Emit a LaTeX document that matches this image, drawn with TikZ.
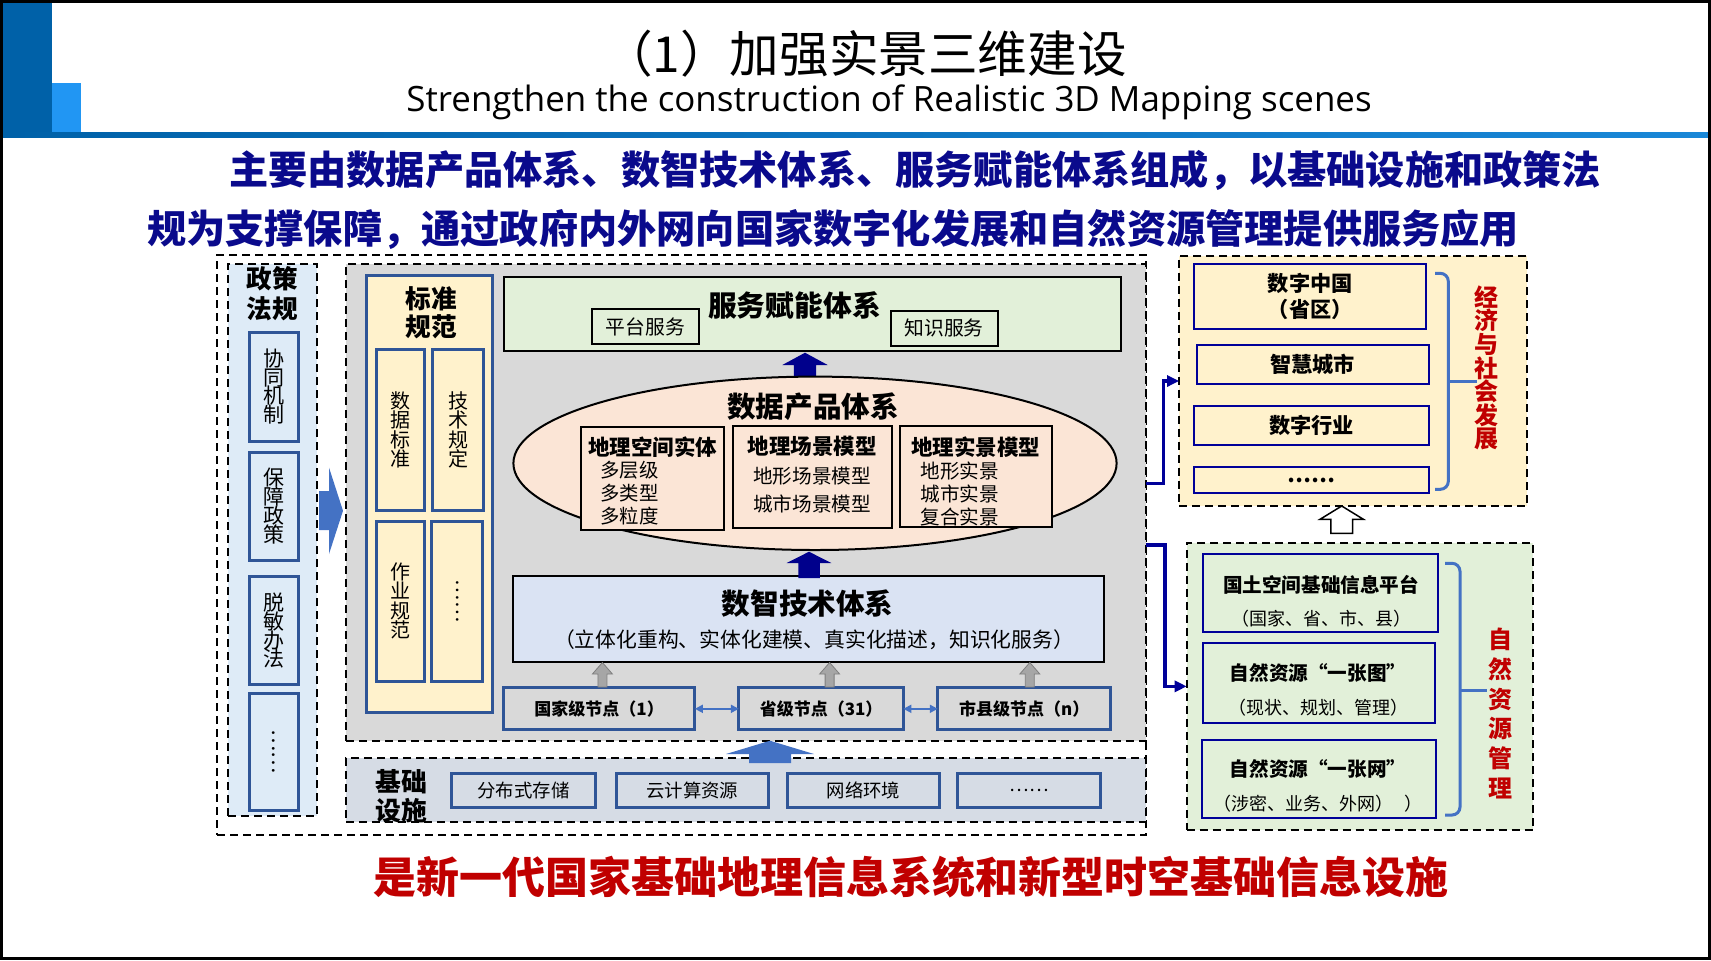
\documentclass[tikz,border=0pt]{standalone}
\usepackage{fontspec}
\usepackage{graphicx}
\setmainfont{Noto Sans CJK SC}
\newfontfamily\latinfont{Open Sans}
\usetikzlibrary{arrows.meta,shapes.geometric}
\definecolor{policyblue}{RGB}{222,235,247}
\definecolor{itemblue}{RGB}{47,85,151}
\definecolor{midgray}{RGB}{217,217,217}
\definecolor{stdyellow}{RGB}{255,242,204}
\definecolor{svcgreen}{RGB}{226,240,217}
\definecolor{prodpeach}{RGB}{251,229,214}
\definecolor{techblue}{RGB}{218,227,243}
\definecolor{infragray}{RGB}{214,220,229}
\definecolor{arrowblue}{RGB}{68,114,196}
\definecolor{navyline}{RGB}{0,0,153}
\definecolor{darknavy}{RGB}{0,0,140}
\definecolor{headred}{RGB}{192,0,0}
\definecolor{headblue}{RGB}{10,10,140}
\definecolor{bardark}{RGB}{0,97,168}
\definecolor{barlight}{RGB}{33,150,243}
\definecolor{lineright}{RGB}{25,135,215}
\definecolor{graytip}{RGB}{166,166,166}
\definecolor{grayedge}{RGB}{127,127,127}
\newcommand\tightlines{\lineskiplimit=-20pt\relax}

\tikzset{
  sz/.style 2 args={minimum width=#1*0.5pt, minimum height=#2*0.5pt},
  fs/.style 2 args={font=\fontsize{#1}{#2}\selectfont\tightlines},
  bf/.style 2 args={font=\fontsize{#1}{#2}\selectfont\bfseries\tightlines},
  dashbox/.style={draw=black, line width=1pt, dash pattern=on 4pt off 2.5pt},
  itembox/.style={draw=itemblue, line width=1.5pt},
  plainbox/.style={draw=black, line width=1pt},
  navybox/.style={draw=navyline, line width=1pt},
  link/.style={navyline, line width=1.75pt, -{Triangle[length=6pt,width=5.5pt]}},
  twoway/.style={arrowblue, line width=1pt, {Triangle[length=4pt,width=4pt]}-{Triangle[length=4pt,width=4pt]}},
  bracket/.style={arrowblue, line width=1.5pt, rounded corners=4pt},
}

\begin{document}
\begin{tikzpicture}[x=0.5pt, y=-0.5pt, every node/.style={inner sep=0pt, outer sep=0pt}]
  \useasboundingbox (0,0) rectangle (1711,960);

  % ── header ─────────────────────────────────────────────
  \fill[bardark] (2,2) rectangle (52,137);
  \fill[barlight] (52,83) rectangle (81,132);
  \shade[left color=bardark, right color=lineright] (2,132) rectangle (1709,137);
  \draw[line width=1.5pt] (1.5,1.5) rectangle (1709.5,958.5);

  \node[fs={24.8}{30}] (title) at (865,54) {（1）加强实景三维建设};
  \node[font=\latinfont\fontsize{17.45}{20}\selectfont] (subtitle) at (889,102)
    {Strengthen the construction of Realistic 3D Mapping scenes};

  \node[bf={19.6}{24}, headblue, anchor=west] (lead1) at (229,170)
    {主要由数据产品体系、数智技术体系、服务赋能体系组成，以基础设施和政策法};
  \node[bf={19.6}{24}, headblue, anchor=west] (lead2) at (147,229)
    {规为支撑保障，通过政府内外网向国家数字化发展和自然资源管理提供服务应用};
  \node[bf={21.5}{26}, headred] (closing) at (911,877)
    {是新一代国家基础地理信息系统和新型时空基础信息设施};

  % ── left block: policy ─────────────────────────────────
  \node[dashbox, sz={929}{580}] (outer) at (681.5,545) {};
  \node[dashbox, fill=policyblue, sz={89}{552}] (policy) at (272.5,540) {};
  \node[bf={12.8}{15}, align=center] (policytitle) at (272,294) {政策\\法规};
  \node[itembox, fill=policyblue, sz={49}{109}, fs={10.5}{9.4}, align=center] (coop) at (273.5,386.5) {协\\同\\机\\制};
  \node[itembox, fill=policyblue, sz={49}{108}, fs={10.5}{9.4}, align=center] (guarantee) at (273.5,506) {保\\障\\政\\策};
  \node[itembox, fill=policyblue, sz={49}{108}, fs={10.5}{9.4}, align=center] (desens) at (273.5,630.7) {脱\\敏\\办\\法};
  \node[itembox, fill=policyblue, sz={49}{117}, fs={10.5}{9.4}] (morepolicy) at (273.5,751.5) {\rotatebox{-90}{……}};

  \fill[arrowblue] (319,491) -- (329,491) -- (329,467.5) -- (343,510.8) -- (329,554) -- (329,530) -- (319,530) -- cycle;

  % ── main block ─────────────────────────────────────────
  \node[dashbox, fill=midgray, sz={800}{477}] (main) at (746,502.5) {};

  \node[itembox, fill=stdyellow, sz={126}{437}] (std) at (429.8,494.2) {};
  \node[bf={12.8}{14.1}, align=center] (stdtitle) at (431,313) {标准\\规范};
  \node[itembox, fill=stdyellow, sz={48.3}{160.6}, fs={10}{9.7}, align=center] (datastd) at (400.8,430) {数\\据\\标\\准};
  \node[itembox, fill=stdyellow, sz={50.6}{160.6}, fs={10}{9.7}, align=center] (techstd) at (458,430) {技\\术\\规\\定};
  \node[itembox, fill=stdyellow, sz={48.3}{160}, fs={10}{9.7}, align=center] (workstd) at (400.8,601) {作\\业\\规\\范};
  \node[itembox, fill=stdyellow, sz={51}{160}, fs={10}{9.7}] (morestd) at (457.2,601) {\rotatebox{-90}{……}};

  \node[plainbox, fill=svcgreen, sz={616.6}{73.7}] (service) at (812.3,314.2) {};
  \node[bf={14.4}{17}] (servicetitle) at (794.4,305) {服务赋能体系};
  \node[plainbox, fill=svcgreen, sz={107}{34.7}, fs={9.9}{12}] (platform) at (645.5,326.7) {平台服务};
  \node[plainbox, fill=svcgreen, sz={107}{35}, fs={9.9}{12}] (knowledge) at (944,328.2) {知识服务};

  \fill[darknavy] (793.8,385) -- (793.8,365) -- (782.3,365) -- (805,352.7) -- (827.7,365) -- (816.2,365) -- (816.2,385) -- cycle;

  \node[ellipse, plainbox, fill=prodpeach, sz={603.2}{173.4}] (product) at (815,463.3) {};
  \node[bf={14.3}{17}] (producttitle) at (813,406.7) {数据产品体系};
  \node[plainbox, fill=prodpeach, sz={143.5}{103.3}] (entity) at (652.5,478.3) {};
  \node[plainbox, fill=prodpeach, sz={159.2}{102}] (scene) at (812.6,476.7) {};
  \node[plainbox, fill=prodpeach, sz={151.7}{101.6}] (real) at (976.3,476.5) {};
  \node[bf={10.75}{13}] (entityhd) at (652.5,446.7) {地理空间实体};
  \node[bf={10.75}{13}] (scenehd) at (812,446.7) {地理场景模型};
  \node[bf={10.75}{13}] (realhd) at (975.8,446.7) {地理实景模型};
  \node[fs={9.7}{11.4}, align=left] (entityitems) at (629.6,493) {多层级\\多类型\\多粒度};
  \node[fs={9.8}{14.15}, align=center] (sceneitems) at (812,490.2) {地形场景模型\\城市场景模型};
  \node[fs={9.8}{11.65}, align=left] (realitems) at (959.8,494) {地形实景\\城市实景\\复合实景};

  \node[plainbox, fill=techblue, sz={590.3}{86}] (tech) at (808.5,619) {};
  \node[bf={14.3}{17}] (techtitle) at (807.6,603.3) {数智技术体系};
  \node[fs={10.4}{13}] (techsub) at (814,639.3) {（立体化重构、实体化建模、真实化描述，知识化服务）};

  \fill[darknavy] (798.3,578) -- (798.3,563) -- (786.7,563) -- (809,551.7) -- (831.3,563) -- (819.8,563) -- (819.8,578) -- cycle;

  \node[itembox, fill=midgray, sz={191.6}{42.3}, bf={8.5}{10}] (national) at (599.1,708.8) {国家级节点（1）};
  \node[itembox, fill=midgray, sz={164.6}{42.3}, bf={8.5}{10}] (provincial) at (821.1,708.8) {省级节点（31）};
  \node[itembox, fill=midgray, sz={172.9}{42.3}, bf={8.5}{10}] (municipal) at (1024.2,708.8) {市县级节点（n）};
  \draw[twoway] (national) -- (provincial);
  \draw[twoway] (provincial) -- (municipal);

  \foreach \ax in {602.4,829.6,1029.8} {
    \filldraw[fill=graytip, draw=grayedge, line width=0.4pt]
      ({\ax-4.5},687) -- ({\ax-4.5},674) -- ({\ax-10},674) -- (\ax,662.5)
      -- ({\ax+10},674) -- ({\ax+4.5},674) -- ({\ax+4.5},687) -- cycle;
  }

  % ── infrastructure ─────────────────────────────────────
  \node[dashbox, fill=infragray, sz={800}{64}] (infra) at (746,790) {};
  \node[bf={12.9}{14.3}, align=center] (infratitle) at (401.7,796.3) {基础\\设施};
  \node[itembox, fill=infragray, sz={143.3}{33.3}, fs={9.2}{11}] (storage) at (523.5,790.6) {分布式存储};
  \node[itembox, fill=infragray, sz={152.3}{33.3}, fs={9.2}{11}] (cloud) at (692.2,790.6) {云计算资源};
  \node[itembox, fill=infragray, sz={151.7}{33.3}, fs={9.2}{11}] (network) at (863.5,790.6) {网络环境};
  \node[itembox, fill=infragray, sz={142.8}{33.3}, fs={9.2}{11}] (moreinfra) at (1029,790.6) {……};

  \fill[arrowblue] (749,763) -- (749,754) -- (726,754) -- (770,740.7) -- (814,754) -- (791,754) -- (791,763) -- cycle;

  % ── right: economy ─────────────────────────────────────
  \node[dashbox, fill=stdyellow, sz={347.7}{250}] (econ) at (1352.9,381) {};
  \node[navybox, fill=stdyellow, sz={231.7}{65}, bf={10.6}{13.3}, align=center] (digitalchina) at (1310.2,296.5) {数字中国\\（省区）};
  \node[navybox, fill=stdyellow, sz={232}{39}, bf={10.6}{13}] (smartcity) at (1312.7,364.5) {智慧城市};
  \node[navybox, fill=stdyellow, sz={234.4}{39.3}, bf={10.6}{13}] (industry) at (1311.5,425.3) {数字行业};
  \node[navybox, fill=stdyellow, sz={234.4}{25.4}, bf={10.6}{13}] (moreecon) at (1311.5,480) {\raisebox{-2.5pt}{……}};
  \draw[bracket] (1435,273.3) -- (1448.3,273.3) -- (1448.3,489.3) -- (1435,489.3);
  \draw[bracket] (1448.3,381.7) -- (1476.7,381.7);
  \node[bf={12}{11.8}, headred, align=center] (econlabel) at (1486.7,367.9) {经\\济\\与\\社\\会\\发\\展};

  % ── right: resources ───────────────────────────────────
  \node[dashbox, fill=svcgreen, sz={346.6}{287.3}] (res) at (1360,686.35) {};
  \node[navybox, fill=svcgreen, sz={234.4}{77.7}] (platformbase) at (1320.5,592.8) {};
  \node[navybox, fill=svcgreen, sz={232}{79.4}] (onemap) at (1319.3,683) {};
  \node[navybox, fill=svcgreen, sz={234.3}{78.3}] (onenet) at (1318.8,779.2) {};
  \node[fs={9.8}{16.5}, align=center] (platformbasetxt) at (1321,600.8)
    {{\bfseries 国土空间基础信息平台}\\{\fontsize{9}{16.5}\selectfont （国家、省、市、县）}};
  \node[fs={9.8}{16.7}, align=center] (onemaptxt) at (1318,690)
    {{\bfseries 自然资源“一张图”}\\{\fontsize{9}{16.7}\selectfont （现状、规划、管理）}};
  \node[fs={9.8}{16.7}, align=center] (onenettxt) at (1318,786)
    {{\bfseries 自然资源“一张网”}\\{\fontsize{9}{16.7}\selectfont （涉密、业务、外网）\hspace{0.6em}）}};
  \draw[bracket] (1445,563.3) -- (1460,563.3) -- (1460,815) -- (1445,815);
  \draw[bracket] (1460,690) -- (1486.7,690);
  \node[bf={12}{14.9}, headred, align=center] (reslabel) at (1500,713.5) {自\\然\\资\\源\\管\\理};

  \filldraw[fill=white, draw=black, line width=0.75pt]
    (1330.9,533.3) -- (1330.9,519.3) -- (1320,519.3) -- (1341.7,506) -- (1363.4,519.3) -- (1352.5,519.3) -- (1352.5,533.3) -- cycle;

  % connectors out of the main block
  \coordinate (mainout1) at (1146,483.3);
  \coordinate (mainout2) at (1146,545);
  \draw[link] (mainout1) -- ++(17.3,0) |- (econ.west);
  \draw[link] (mainout2) -- ++(19,0) |- (res.west);
\end{tikzpicture}
\end{document}
